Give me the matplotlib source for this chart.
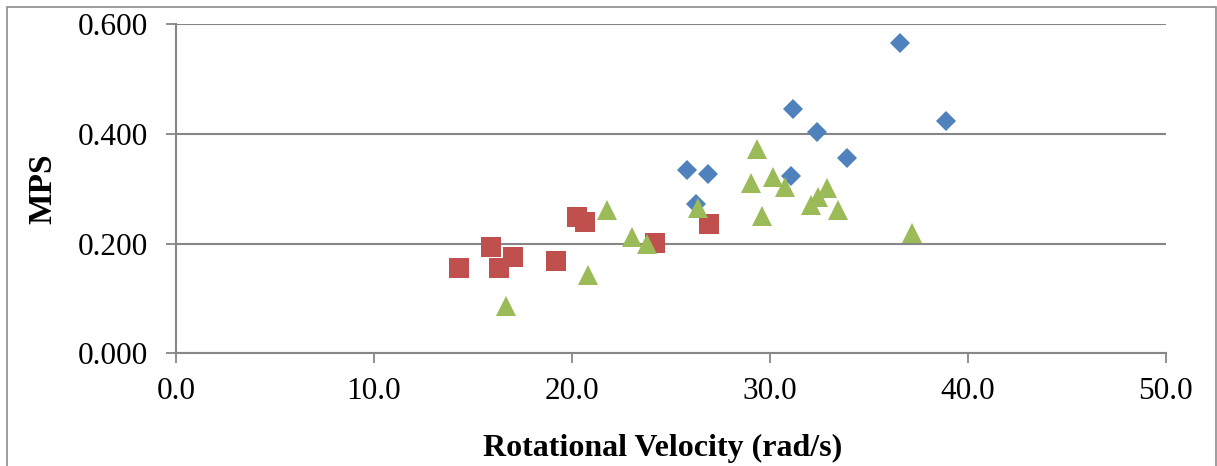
import matplotlib
matplotlib.use("Agg")
import matplotlib.pyplot as plt
from matplotlib.patches import Rectangle

# Series A (blue diamonds)
blue_x = [36.6, 38.9, 31.2, 32.4, 33.9, 25.8, 26.9, 31.1, 26.3]
blue_y = [0.566, 0.424, 0.446, 0.404, 0.356, 0.334, 0.327, 0.323, 0.272]

# Series B (red squares)
red_x = [14.3, 15.9, 16.3, 17.05, 19.2, 20.27, 20.68, 24.2, 26.95]
red_y = [0.155, 0.194, 0.155, 0.175, 0.168, 0.249, 0.239, 0.201, 0.235]

# Series C (green triangles)
green_x = [16.67, 20.81, 21.77, 23.02, 23.81, 26.37, 29.36, 29.04, 30.18,
           30.77, 29.61, 32.1, 32.44, 32.92, 33.45, 37.21]
green_y = [0.087, 0.143, 0.262, 0.212, 0.200, 0.265, 0.372, 0.311, 0.322,
           0.304, 0.250, 0.271, 0.285, 0.302, 0.262, 0.220]

x_ticks = [0, 10, 20, 30, 40, 50]
y_ticks = [0.0, 0.2, 0.4, 0.6]

plt.rcParams['font.family'] = ['Liberation Serif', 'DejaVu Serif']

W, H = 1217, 466
fig = plt.figure(figsize=(W / 100, H / 100), dpi=100)
ax = fig.add_axes([176 / W, 1 - 353.3 / H, (1165.5 - 176) / W, (353.3 - 24.3) / H])

gray = '#868686'
ax.plot(blue_x, blue_y, linestyle='none', marker='D', markersize=9.7,
        color='#4F81BD', markeredgewidth=0, zorder=3)
ax.plot(red_x, red_y, linestyle='none', marker='s', markersize=13.7,
        color='#C0504D', markeredgewidth=0, zorder=4)
ax.plot(green_x, green_y, linestyle='none', marker='^', markersize=13.9,
        color='#9BBB59', markeredgewidth=0, zorder=5)

ax.set_xlim(0, 50)
ax.set_ylim(0, 0.6)
ax.set_xticks(x_ticks)
ax.set_xticklabels([f"{v:.1f}" for v in x_ticks])
ax.set_yticks(y_ticks)
ax.set_yticklabels([f"{v:.3f}" for v in y_ticks])

ax.grid(axis='y', color=gray, linewidth=1.5, zorder=1)
ax.set_axisbelow(True)
for s in ['top', 'right']:
    ax.spines[s].set_visible(False)
for s in ['left', 'bottom']:
    ax.spines[s].set_color(gray)
    ax.spines[s].set_linewidth(1.5)

ax.tick_params(axis='both', direction='out', length=7, width=1.3, color=gray,
               labelsize=22.5, labelcolor='black')
ax.tick_params(axis='y', pad=13)
ax.tick_params(axis='x', pad=10)

ax.set_xlabel('Rotational Velocity (rad/s)', fontsize=23, fontweight='bold', labelpad=20)
ax.xaxis.label.set_x((662.5 - 176) / (1165.5 - 176))
ax.set_ylabel('MPS', fontsize=24, fontweight='bold', labelpad=14)

fig.patches.append(Rectangle((7 / W, -0.1), (1216 - 7) / W, (H - 7) / H + 0.1,
                             transform=fig.transFigure, fill=False,
                             edgecolor='#8c8c8c', linewidth=1.2))

fig.savefig('out.png', dpi=100)
